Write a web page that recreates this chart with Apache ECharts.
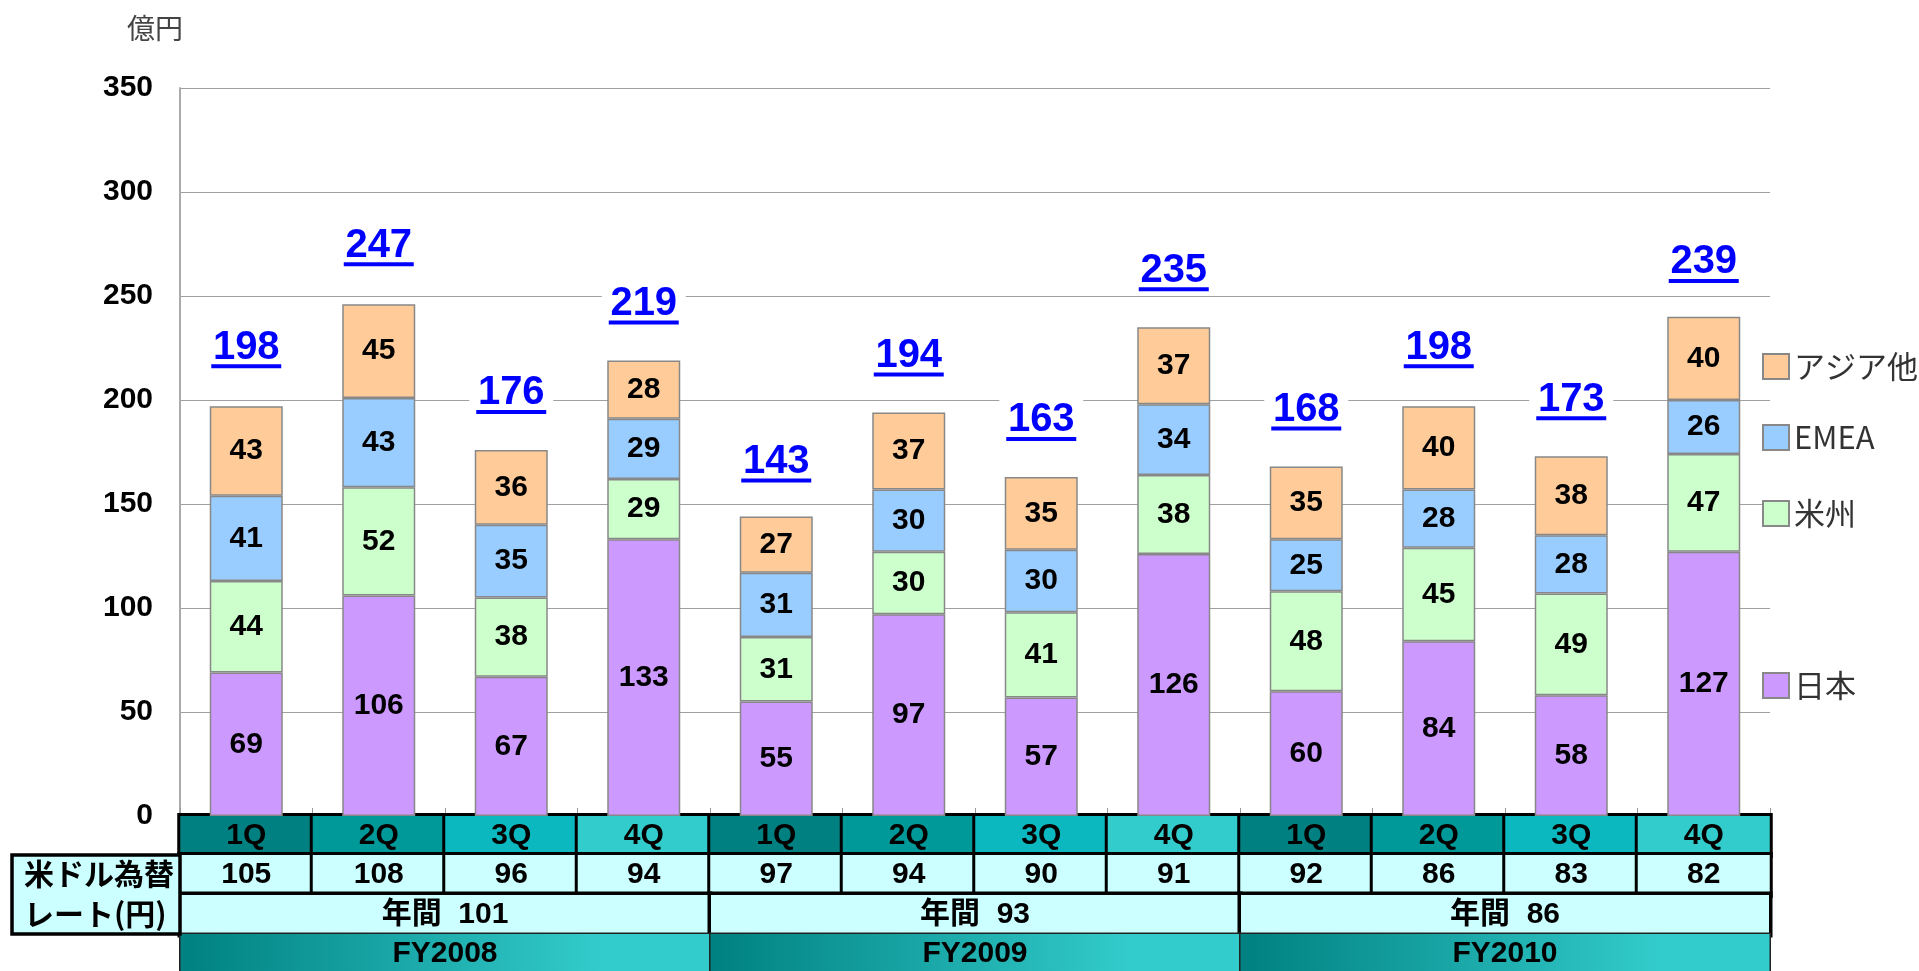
<!DOCTYPE html>
<html>
<head>
<meta charset="utf-8">
<script src="https://cdn.jsdelivr.net/npm/echarts@6/dist/echarts.min.js"></script>
<style>
  html, body { margin: 0; padding: 0; background: #fff; overflow: hidden; }
  #main { width: 1919px; height: 971px; }
</style>
</head>
<body>
<div id="main"></div>
<script>
// 四半期
var quarters = ['1Q', '2Q', '3Q', '4Q', '1Q', '2Q', '3Q', '4Q', '1Q', '2Q', '3Q', '4Q'];
var fiscalYears = ['FY2008', 'FY2009', 'FY2010'];
// 地域別（億円）
var japan    = [69, 106, 67, 133, 55, 97, 57, 126, 60, 84, 58, 127];
var americas = [44, 52, 38, 29, 31, 30, 41, 38, 48, 45, 49, 47];
var emea     = [41, 43, 35, 29, 31, 30, 30, 34, 25, 28, 28, 26];
var asia     = [43, 45, 36, 28, 27, 37, 35, 37, 35, 40, 38, 40];
var totals   = [198, 247, 176, 219, 143, 194, 163, 235, 168, 198, 173, 239];
// 米ドル為替レート（円）
var rates       = [105, 108, 96, 94, 97, 94, 90, 91, 92, 86, 83, 82];
var annualRates = [101, 93, 86];
var yTicks = { min: 0, max: 350, interval: 50 };

var LATIN = "'Liberation Sans', Arial, 'Noto Sans CJK JP', sans-serif";
var CJK = "'Noto Sans CJK JP', 'Liberation Sans', sans-serif";

var chart = echarts.init(document.getElementById('main'));

var quarterColors = ['#008080', '#009999', '#0BB8C0', '#33CCCC'];
var quarterRich = {};
quarterColors.forEach(function (c, i) {
    quarterRich['q' + i] = {
        width: 132, height: 39, lineHeight: 39, align: 'center',
        backgroundColor: c, borderColor: '#000', borderWidth: 3,
        fontSize: 30, fontWeight: 'bold', color: '#000', fontFamily: LATIN
    };
});

var fyGradient = new echarts.graphic.LinearGradient(0, 0, 1, 0, [
    { offset: 0, color: '#008080' },
    { offset: 0.8, color: '#33CCCC' },
    { offset: 1, color: '#33CCCC' }
]);

function segment(name, data, color) {
    return {
        name: name,
        type: 'bar',
        stack: 'total',
        barWidth: 73,
        data: data,
        silent: true,
        itemStyle: { color: color, borderColor: '#888', borderWidth: 1.5 },
        label: {
            show: true, position: 'inside',
            fontSize: 30, fontWeight: 'bold', color: '#000', fontFamily: LATIN
        },
        emphasis: { disabled: true }
    };
}

var legendTops = [346, 417, 493, 665];
var legendNames = ['アジア他', 'EMEA', '米州', '日本'];

var option = {
    animation: false,
    grid: { left: 180, right: 149, top: 88, bottom: 155, containLabel: false, outerBoundsMode: 'none' },
    legend: legendNames.map(function (n, i) {
        return {
            data: [n], left: 1757, top: legendTops[i], orient: 'vertical',
            icon: 'rect', itemWidth: 26, itemHeight: 25, itemGap: 0,
            selectedMode: false,
            textStyle: { fontSize: 31, color: '#333', fontFamily: CJK, lineHeight: 31 }
        };
    }),
    xAxis: [
        {
            type: 'category', data: quarters, position: 'bottom',
            axisLine: { show: true, onZero: false, lineStyle: { color: '#000', width: 3 } },
            axisTick: { show: true, inside: true, length: 8, lineStyle: { color: '#999' } },
            axisLabel: {
                interval: 0, margin: 0,
                formatter: function (v, i) { return '{q' + (i % 4) + '|' + v + '}'; },
                rich: quarterRich
            }
        },
        {
            type: 'category', data: quarters, position: 'bottom', offset: 39,
            axisLine: { show: false, onZero: false }, axisTick: { show: false },
            axisLabel: {
                interval: 0, margin: 0,
                formatter: function (v, i) { return '{r|' + rates[i] + '}'; },
                rich: {
                    r: {
                        width: 132, height: 40, lineHeight: 40, align: 'center',
                        backgroundColor: '#CCFFFF', borderColor: '#000', borderWidth: 3,
                        fontSize: 30, fontWeight: 'bold', color: '#000', fontFamily: LATIN
                    }
                }
            }
        },
        {
            type: 'category', data: fiscalYears, position: 'bottom', offset: 79,
            axisLine: { show: false, onZero: false }, axisTick: { show: false },
            axisLabel: {
                interval: 0, margin: 0,
                formatter: function (v, i) { return '{a|年間  ' + annualRates[i] + '}'; },
                rich: {
                    a: {
                        width: 528, height: 39, lineHeight: 39, align: 'center',
                        backgroundColor: '#CCFFFF', borderColor: '#000', borderWidth: 3.5,
                        fontSize: 30, fontWeight: 'bold', color: '#000', fontFamily: LATIN
                    }
                }
            }
        },
        {
            type: 'category', data: fiscalYears, position: 'bottom', offset: 118,
            axisLine: { show: false, onZero: false }, axisTick: { show: false },
            axisLabel: {
                interval: 0, margin: 0,
                formatter: function (v) { return '{f|' + v + '}'; },
                rich: {
                    f: {
                        width: 529, height: 40, lineHeight: 40, align: 'center',
                        backgroundColor: fyGradient, borderColor: '#222', borderWidth: 1.5,
                        fontSize: 30, fontWeight: 'bold', color: '#000', fontFamily: LATIN
                    }
                }
            }
        }
    ],
    yAxis: {
        type: 'value', min: yTicks.min, max: yTicks.max, interval: yTicks.interval,
        name: '億円', nameLocation: 'end', nameGap: 46,
        nameTextStyle: { fontSize: 28, color: '#444', fontFamily: CJK, align: 'right', padding: [0, -3, 0, 0] },
        axisLine: { show: true, lineStyle: { color: '#aaa', width: 2 } },
        axisTick: { show: false },
        splitLine: { show: true, lineStyle: { color: '#a0a0a0', width: 1.2 } },
        axisLabel: { fontSize: 30, fontWeight: 'bold', color: '#000', margin: 27, fontFamily: LATIN }
    },
    series: [
        segment('日本', japan, '#CC99FF'),
        segment('米州', americas, '#CCFFCC'),
        segment('EMEA', emea, '#99CCFF'),
        segment('アジア他', asia, '#FFCC99'),
        {
            name: '合計',
            type: 'bar',
            barWidth: 73,
            barGap: '-100%',
            data: totals,
            silent: true,
            z: 1,
            itemStyle: { color: 'rgba(0,0,0,0)', borderWidth: 0 },
            label: {
                show: true, position: 'top', distance: 32,
                backgroundColor: '#fff', padding: [4, 7],
                formatter: function (p) { return '{a|' + p.value + '}\n{u|}'; },
                rich: {
                    a: { fontSize: 40, fontWeight: 'bold', color: '#0000FF', lineHeight: 33, fontFamily: LATIN, align: 'center' },
                    u: { width: 70, height: 4, lineHeight: 4, backgroundColor: '#0000FF', align: 'center' }
                }
            },
            emphasis: { disabled: true }
        }
    ],
    graphic: [
        {
            type: 'rect', z: 10,
            shape: { x: 12, y: 855, width: 168, height: 79 },
            style: { fill: '#CCFFFF', stroke: '#000', lineWidth: 3.5 }
        },
        {
            type: 'text', z: 11, left: 24, top: 854,
            style: {
                text: '米ドル為替\nレート(円)', fontSize: 30, fontWeight: 'bold', lineHeight: 40,
                fill: '#000', fontFamily: CJK, align: 'center', width: 146
            }
        }
    ]
};

chart.setOption(option);
window.onresize = chart.resize;
</script>
</body>
</html>
